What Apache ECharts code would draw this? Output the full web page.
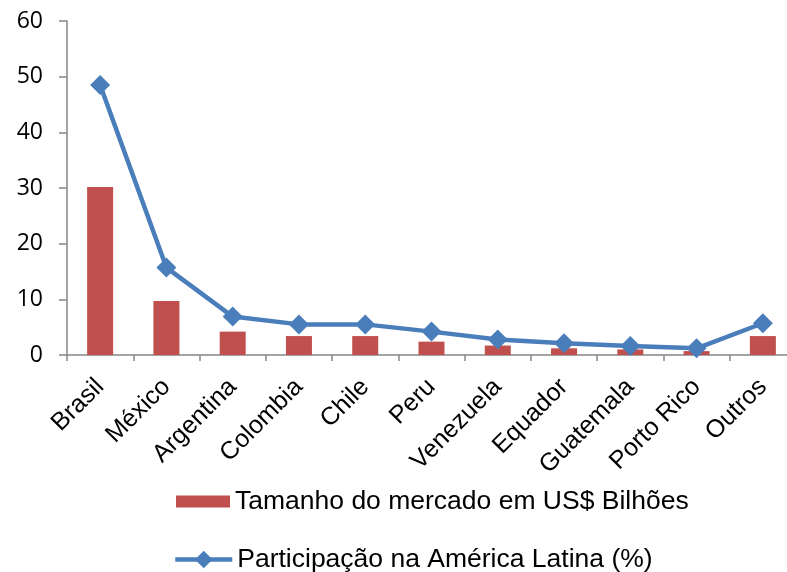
<!DOCTYPE html>
<html>
<head>
<meta charset="utf-8">
<script src="https://cdn.jsdelivr.net/npm/echarts@6/dist/echarts.min.js"></script>
<style>
  html, body { margin: 0; padding: 0; background: #fff; overflow: hidden; }
  /* the plot runs slightly past the right edge of the window */
  #chart { width: 800px; height: 572px; }
</style>
</head>
<body>
<div id="chart"></div>
<script>
// Mercado latino-americano por país
const categories = ['Brasil', 'México', 'Argentina', 'Colombia', 'Chile', 'Peru', 'Venezuela', 'Equador', 'Guatemala', 'Porto Rico', 'Outros'];
const tamanhoMercado = [30.2, 9.7, 4.2, 3.4, 3.4, 2.4, 1.7, 1.2, 1.0, 0.7, 3.4];
const participacao = [48.5, 15.7, 6.9, 5.5, 5.5, 4.2, 2.8, 2.1, 1.6, 1.2, 5.7];
const yTicks = [0, 10, 20, 30, 40, 50, 60];

const nomeBarras = 'Tamanho do mercado em US$ Bilhões';
const nomeLinha = 'Participação na América Latina (%)';

const legendText = { fontFamily: 'Liberation Sans, Arial, sans-serif', fontSize: 26.5, color: '#000' };

const chart = echarts.init(document.getElementById('chart'), null, { renderer: 'canvas' });

chart.setOption({
  animation: false,
  backgroundColor: '#ffffff',
  grid: { left: 67, top: 21, bottom: 217, right: 4, containLabel: false },
  legend: [
    {
      left: 176,
      top: 488,
      padding: 0,
      itemWidth: 54,
      itemHeight: 12,
      textStyle: legendText,
      data: [{ name: nomeBarras, icon: 'rect' }]
    },
    {
      left: 173,
      top: 546,
      padding: 0,
      itemWidth: 57,
      itemHeight: 22,
      lineStyle: { width: 4.5 },
      textStyle: legendText,
      data: [{ name: nomeLinha }]
    }
  ],
  xAxis: {
    type: 'category',
    data: categories,
    axisLine: { lineStyle: { color: '#868686', width: 1.5 } },
    axisTick: { show: true, length: 6, alignWithLabel: false, lineStyle: { color: '#868686', width: 1.5 } },
    axisLabel: {
      rotate: 45,
      interval: 0,
      margin: 28,
      fontFamily: 'Liberation Sans, Arial, sans-serif',
      fontSize: 25,
      color: '#000'
    }
  },
  yAxis: {
    type: 'value',
    min: yTicks[0],
    max: yTicks[yTicks.length - 1],
    interval: 10,
    splitLine: { show: false },
    axisLine: { show: true, lineStyle: { color: '#868686', width: 1.5 } },
    axisTick: { show: true, length: 8, inside: false, lineStyle: { color: '#868686', width: 1.5 } },
    axisLabel: {
      margin: 24,
      fontFamily: 'Open Sans, Noto Sans, sans-serif',
      fontSize: 23,
      color: '#000'
    }
  },
  series: [
    {
      name: nomeBarras,
      type: 'bar',
      data: tamanhoMercado,
      barWidth: 26,
      itemStyle: { color: '#C0504D' }
    },
    {
      name: nomeLinha,
      type: 'line',
      data: participacao,
      symbol: 'diamond',
      symbolSize: 20,
      lineStyle: { color: '#4A7EBB', width: 4.5 },
      itemStyle: { color: '#4A7EBB' }
    }
  ]
});
</script>
</body>
</html>
